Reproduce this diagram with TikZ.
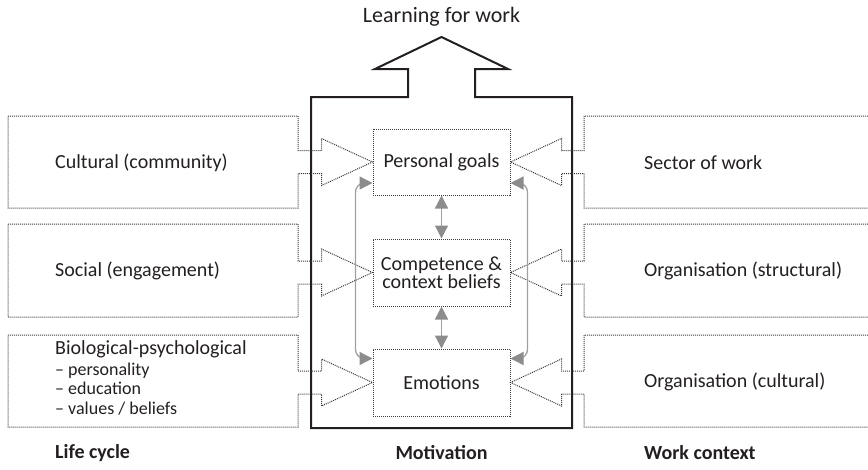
\documentclass[tikz,border=0pt]{standalone}
\usepackage{fontspec}
\setmainfont{Carlito}
\usetikzlibrary{arrows.meta,calc}
\definecolor{txt}{HTML}{231F20}
\definecolor{dotc}{HTML}{3A3A3A}
\definecolor{grayline}{HTML}{A0A0A0}
\definecolor{grayhead}{HTML}{8C8C8C}
\begin{document}
\begin{tikzpicture}[x=1pt,y=-1pt,
  dotbox/.style={draw=dotc, line width=1pt, dash pattern=on 1pt off 1pt},
  inner/.style={dotbox, minimum width=137pt, minimum height=66pt, inner sep=0pt,
    align=center, font=\fontsize{20}{20}\selectfont, text=txt},
  lbl/.style={anchor=west, inner sep=0pt, font=\fontsize{20}{24}\selectfont, text=txt},
  foot/.style={inner sep=0pt, font=\fontsize{20}{24}\selectfont\bfseries, text=txt},
  frame/.style={draw=txt, line width=2pt, line join=miter},
  grayarr/.style={draw=grayline, line width=1.3pt,
    {Triangle[length=13pt,width=13pt,color=grayhead]}-{Triangle[length=13pt,width=13pt,color=grayhead]}}
]
\useasboundingbox (0,0) rectangle (868,469);

% central frame with upward arrow
\draw[frame] (311,97) -- (408,97) -- (408,69) -- (375,69) -- (441.5,37)
  -- (508,69) -- (475,69) -- (475,97) -- (572,97) -- (572,428) -- (311,428) -- cycle;
\node[inner sep=0pt, font=\fontsize{22}{22}\selectfont, text=txt] (title) at (441.5,17) {Learning for work};

% inner nodes
\node[inner] (pg) at (441.5,162) {Personal goals};
\node[inner, minimum height=67pt] (cb) at (441.5,272.5) {Competence \&\\[-2pt] context beliefs};
\node[inner, minimum height=67pt] (em) at (441.5,382.5) {Emotions};

% left boxes
\draw[dotbox] (8,116) -- (298,116) |- ($(pg.west)+(-51,-11.5)$) -- ++(0,-12) -- (pg.west)
  -- ($(pg.west)+(-51,23.5)$) -- ++(0,-12) -| (298,208) -- (8,208) -- cycle;
\draw[dotbox] (8,224) -- (298,224) |- ($(cb.west)+(-51,-11.5)$) -- ++(0,-12) -- (cb.west)
  -- ($(cb.west)+(-51,23.5)$) -- ++(0,-12) -| (298,317) -- (8,317) -- cycle;
\draw[dotbox] (8,335) -- (298,335) |- ($(em.west)+(-51,-11.5)$) -- ++(0,-12) -- (em.west)
  -- ($(em.west)+(-51,23.5)$) -- ++(0,-12) -| (298,427) -- (8,427) -- cycle;

% right boxes
\draw[dotbox] (870,116) -- (584,116) |- ($(pg.east)+(51,-11.5)$) -- ++(0,-12) -- (pg.east)
  -- ($(pg.east)+(51,23.5)$) -- ++(0,-12) -| (584,208) -- (870,208);
\draw[dotbox] (870,224) -- (584,224) |- ($(cb.east)+(51,-11.5)$) -- ++(0,-12) -- (cb.east)
  -- ($(cb.east)+(51,23.5)$) -- ++(0,-12) -| (584,317) -- (870,317);
\draw[dotbox] (870,335) -- (584,335) |- ($(em.east)+(51,-11.5)$) -- ++(0,-12) -- (em.east)
  -- ($(em.east)+(51,23.5)$) -- ++(0,-12) -| (584,427) -- (870,427);

% texts of side boxes
\node[lbl] (cult) at (55,163) {Cultural (community)};
\node[lbl] (soc) at (55,271) {Social (engagement)};
\node[lbl, anchor=north west, align=left, font=\fontsize{18}{19.5}\selectfont] (bio) at (55,340)
  {{\fontsize{20}{20}\selectfont Biological-psychological}\\[1.5pt] – personality\\ – education\\ – values / beliefs};
\node[lbl] (sect) at (644,163) {Sector of work};
\node[lbl] (orgs) at (644,271) {Organisation (structural)};
\node[lbl] (orgc) at (644,382) {Organisation (cultural)};

% footers
\node[foot, anchor=west] (life) at (55,453) {Life cycle};
\node[foot] (mot) at (441.5,453) {Motivation};
\node[foot, anchor=west] (work) at (644,453) {Work context};

% gray arrows
\draw[grayarr] (pg.south) -- (cb.north);
\draw[grayarr] (cb.south) -- (em.north);
\draw[grayarr, rounded corners=9pt] ($(pg.west)+(0,21)$) -| ($(em.west)+(-17,-24)$) -- ($(em.west)+(0,-24)$);
\draw[grayarr, rounded corners=9pt] ($(pg.east)+(0,21)$) -| ($(em.east)+(17,-24)$) -- ($(em.east)+(0,-24)$);
\end{tikzpicture}
\end{document}
